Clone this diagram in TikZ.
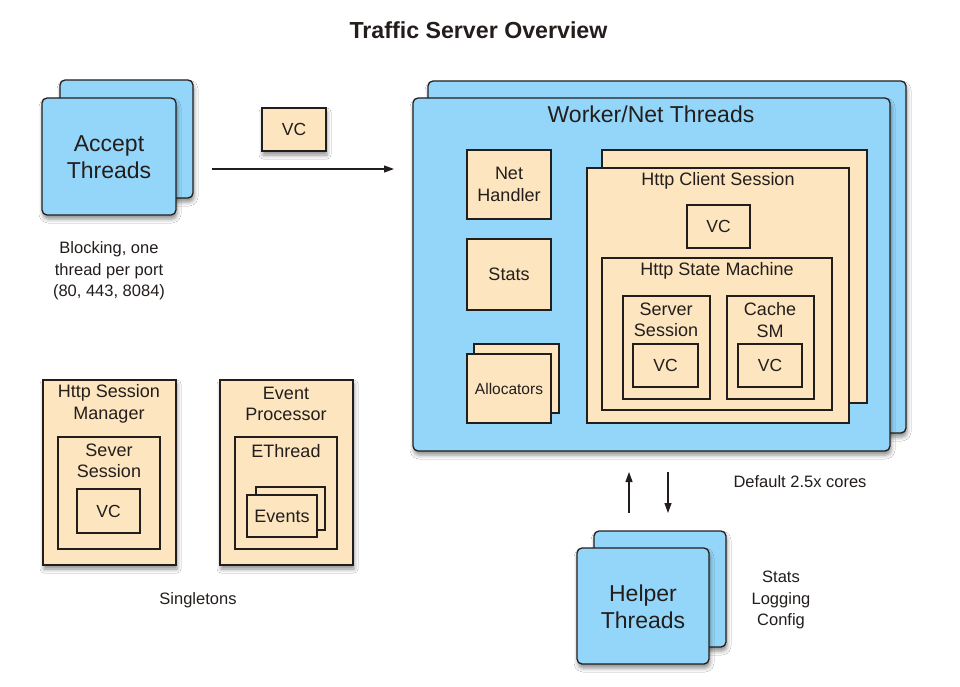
\documentclass[tikz,border=0pt]{standalone}
\usepackage{fontspec}
\setmainfont{Liberation Sans}
\usetikzlibrary{fit,arrows.meta,shadows.blur}
\definecolor{tblue}{RGB}{148,214,249}
\definecolor{tbeige}{RGB}{252,229,191}
\definecolor{tline}{RGB}{35,30,28}
\begin{document}
\begin{tikzpicture}[x=1pt,y=-1pt,
  shad/.style={blur shadow={shadow xshift=1pt, shadow yshift=-4pt, shadow blur radius=4pt, shadow opacity=45}},
  bluebox/.style={draw=tline, fill=tblue, line width=1.3pt, rounded corners=5pt, inner sep=0pt, shad},
  beigebox/.style={draw=tline, fill=tbeige, line width=1.2pt, inner sep=0pt},
  beigeshad/.style={beigebox, shad},
  big/.style={font=\fontsize{23}{27}\selectfont, text=tline, align=center, inner sep=0pt},
  mid/.style={font=\fontsize{18}{21.5}\selectfont, text=tline, align=center, inner sep=0pt},
  note/.style={font=\fontsize{16.5}{21.5}\selectfont, text=tline, align=center, inner sep=0pt},
  arr/.style={draw=tline, line width=1.2pt, -{Triangle[length=10pt,width=7pt]}}
]
\useasboundingbox[fill=white] (0,0) rectangle (960,687);

% title
\node[font=\fontsize{23.2}{27}\selectfont\bfseries, text=tline, inner sep=0pt] (title) at (478.5,30) {Traffic Server Overview};

% Accept threads
\node[bluebox, fit={(60,80)(193,198)}] (accback) {};
\node[bluebox, fit={(42,98)(176,215)}] (accfront) {};
\node[big] (acctext) at (109,157) {Accept\\Threads};
\node[note] (blocking) at (109,271) {Blocking, one\\thread per port\\(80, 443, 8084)};

% VC on arrow
\node[beigeshad, fit={(262,108)(326,151)}] (vctop) {};
\node[mid, font=\fontsize{17.5}{21}\selectfont] at (vctop.center) {VC};
\coordinate (a1) at (212,169);
\coordinate (a2) at (394,169);
\draw[arr] (a1) -- (a2);

% Worker threads
\node[bluebox, fit={(428,81)(906,433)}] (wback) {};
\node[bluebox, fit={(413,98)(890,451)}] (wfront) {};
\node[big] (wtitle) at (651,114) {Worker/Net Threads};

\node[beigebox, fit={(467,150)(551,219)}] (nethandler) {};
\node[mid] at (nethandler.center) {Net\\Handler};
\node[beigebox, fit={(467,239)(551,310)}] (stats) {};
\node[mid] at (stats.center) {Stats};
\node[beigebox, fit={(474,344)(559,413)}] (allocback) {};
\node[beigebox, fit={(467,354)(551,423)}] (allocfront) {};
\node[mid, font=\fontsize{15.5}{19}\selectfont] at (allocfront.center) {Allocators};

\node[beigebox, fit={(602,150)(867,403)}] (hcsback) {};
\node[beigebox, fit={(587,168)(849,423)}] (hcs) {};
\node[mid] (hcstitle) at (718,181) {Http Client Session};
\node[beigebox, fit={(687,205)(750,248)}] (hcsvc) {};
\node[mid, font=\fontsize{17.5}{21}\selectfont] at (hcsvc.center) {VC};

\node[beigebox, fit={(602,258)(832,410)}] (hsm) {};
\node[mid] (hsmtitle) at (717,271) {Http State Machine};

\node[beigebox, fit={(623,296)(710,399)}] (ss) {};
\node[mid] at (666,320) {Server\\Session};
\node[beigebox, fit={(633,344)(698,387)}] (ssvc) {};
\node[mid, font=\fontsize{17.5}{21}\selectfont] at (ssvc.center) {VC};

\node[beigebox, fit={(727,296)(814,399)}] (csm) {};
\node[mid] at (770,320) {Cache\\SM};
\node[beigebox, fit={(738,344)(802,387)}] (csmvc) {};
\node[mid, font=\fontsize{17.5}{21}\selectfont] at (csmvc.center) {VC};

% arrows worker <-> helper
\coordinate (u1) at (629,513);
\coordinate (u2) at (629,472);
\coordinate (d1) at (668,472);
\coordinate (d2) at (668,513);
\draw[arr] (u1) -- (u2);
\draw[arr] (d1) -- (d2);
\node[note] (cores) at (800,482) {Default 2.5x cores};

% Helper threads
\node[bluebox, fit={(594,531)(726,647)}] (hback) {};
\node[bluebox, fit={(577,548)(709,664)}] (hfront) {};
\node[big] (htext) at (643,607) {Helper\\Threads};
\node[note] (hnote) at (781,600) {Stats\\Logging\\Config};

% Singletons
\node[beigeshad, fit={(43,380)(176,565)}] (hsmgr) {};
\node[mid] at (109,404) {Http Session\\Manager};
\node[beigebox, fit={(58,437)(160,549)}] (sever) {};
\node[mid] at (109,461) {Sever\\Session};
\node[beigebox, fit={(77,489)(140,533)}] (severvc) {};
\node[mid, font=\fontsize{17.5}{21}\selectfont] at (severvc.center) {VC};

\node[beigeshad, fit={(220,380)(353,565)}] (evp) {};
\node[mid] at (286,404) {Event\\Processor};
\node[beigebox, fit={(235,437)(337,549)}] (ethread) {};
\node[mid] at (286,451) {EThread};
\node[beigebox, fit={(256,487)(325,530)}] (evback) {};
\node[beigebox, fit={(247,495)(317,537)}] (evfront) {};
\node[mid] at (evfront.center) {Events};

\node[note] (singletons) at (198,600) {Singletons};
\end{tikzpicture}
\end{document}
